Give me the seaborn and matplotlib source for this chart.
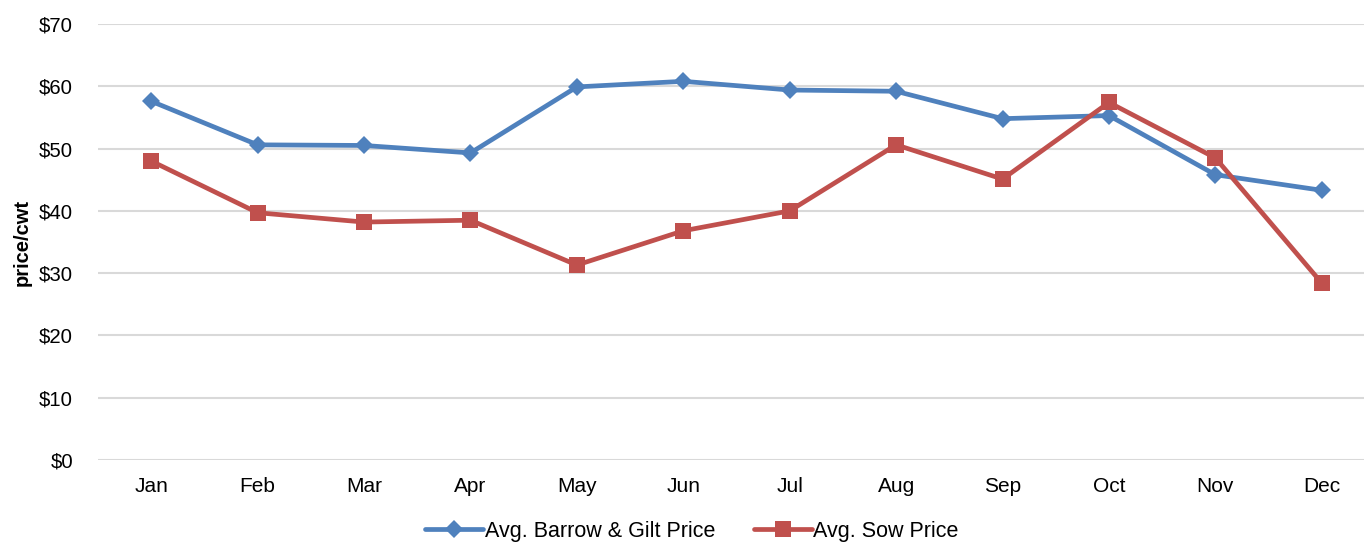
import pandas as pd
import numpy as np
import matplotlib.pyplot as plt
import seaborn as sns
from matplotlib.ticker import FuncFormatter

# Dados
meses = ['Jan', 'Feb', 'Mar', 'Apr', 'May', 'Jun', 'Jul', 'Aug', 'Sep', 'Oct', 'Nov', 'Dec']
barrow_gilt = [57.6, 50.6, 50.5, 49.3, 59.9, 60.8, 59.4, 59.2, 54.8, 55.3, 45.8, 43.3]
sow = [48.0, 39.7, 38.2, 38.5, 31.3, 36.8, 40.0, 50.6, 45.1, 57.4, 48.5, 28.4]

df = pd.DataFrame({'mes': meses, 'Avg. Barrow & Gilt Price': barrow_gilt, 'Avg. Sow Price': sow})
df['pos'] = np.arange(len(meses))

sns.set_style('white')
plt.rcParams['font.family'] = ['Liberation Sans', 'DejaVu Sans']
plt.rcParams['text.color'] = 'black'
plt.rcParams['xtick.color'] = 'black'
plt.rcParams['ytick.color'] = 'black'
plt.rcParams['axes.labelcolor'] = 'black'

fig = plt.figure(figsize=(13.64, 5.44), dpi=100)
ax = fig.add_axes([98 / 1364, 84 / 544, 1277 / 1364, 436 / 544])

sns.lineplot(data=df, x='pos', y='Avg. Barrow & Gilt Price', ax=ax, color='#4F81BD',
             linewidth=3.4, marker='D', markersize=9.5, markeredgewidth=0,
             label='Avg. Barrow & Gilt Price')
sns.lineplot(data=df, x='pos', y='Avg. Sow Price', ax=ax, color='#C0504D',
             linewidth=3.4, marker='s', markersize=11, markeredgewidth=0,
             label='Avg. Sow Price')

ax.set_xlim(-0.5, 11.5)
ax.set_ylim(0, 70)
ax.set_yticks(range(0, 71, 10))
ax.yaxis.set_major_formatter(FuncFormatter(lambda v, p: f'${v:.0f}'))
ax.set_xticks(df['pos'])
ax.set_xticklabels(meses)
ax.set_xlabel('')
ax.set_ylabel('price/cwt', fontsize=14.5, fontweight='bold', labelpad=5)
ax.tick_params(axis='x', labelsize=15, length=0, pad=12)
ax.tick_params(axis='y', labelsize=14.7, length=0, pad=18)
ax.grid(axis='y', color='#D9D9D9', linewidth=1.5)
ax.set_axisbelow(True)
for s in ax.spines.values():
    s.set_visible(False)

ax.legend(loc='center', bbox_to_anchor=(0.465, -0.163), ncol=2, frameon=False,
          fontsize=15.5, handlelength=2.7, handletextpad=0.05, columnspacing=1.8,
          borderpad=0)

fig.savefig('out.png', dpi=100)
